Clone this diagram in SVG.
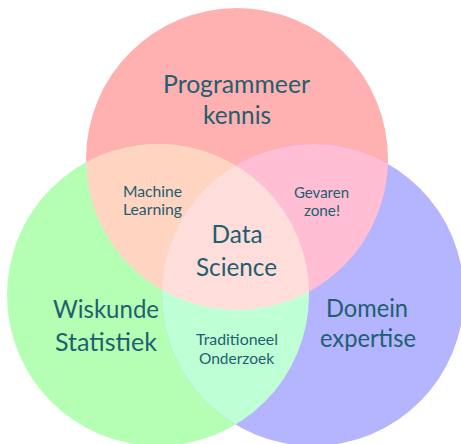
<svg xmlns="http://www.w3.org/2000/svg" width="461" height="444" viewBox="0 0 461 444">
  <defs>
    <clipPath id="clipR"><circle cx="237" cy="159" r="151"/></clipPath>
    <clipPath id="clipB"><circle cx="313" cy="295" r="151"/></clipPath>
    <style>
      .lbl { font-family: Lato, "Liberation Sans", sans-serif; fill: #215F6F; text-anchor: middle; }
      .big { font-size: 25px; }
      .small { font-size: 15px; }
    </style>
  </defs>
  <rect width="461" height="444" fill="#ffffff"/>

  <!-- the three sets -->
  <g id="set-programmeer"><circle cx="237" cy="159" r="151" fill="#FFB0B0"/></g>
  <g id="set-wiskunde"><circle cx="158" cy="295" r="151" fill="#B4FFB4"/></g>
  <g id="set-domein"><circle cx="313" cy="295" r="151" fill="#B4B4FF"/></g>

  <!-- pairwise overlaps -->
  <g id="overlap-ml" clip-path="url(#clipR)"><circle cx="158" cy="295" r="151" fill="#FFD4C0"/></g>
  <g id="overlap-gevaren" clip-path="url(#clipR)"><circle cx="313" cy="295" r="151" fill="#FFBED4"/></g>
  <g id="overlap-traditioneel" clip-path="url(#clipB)"><circle cx="158" cy="295" r="151" fill="#BEFFD6"/></g>

  <!-- triple overlap -->
  <g id="overlap-datascience" clip-path="url(#clipR)">
    <g clip-path="url(#clipB)"><circle cx="158" cy="295" r="151" fill="#FFDDDA"/></g>
  </g>

  <!-- labels -->
  <g id="labels">
    <text class="lbl big" x="236.5" y="93" textLength="147" lengthAdjust="spacingAndGlyphs">Programmeer</text>
    <text class="lbl big" x="237" y="124" textLength="68" lengthAdjust="spacingAndGlyphs">kennis</text>
    <text class="lbl small" x="152.5" y="197" textLength="59" lengthAdjust="spacingAndGlyphs">Machine</text>
    <text class="lbl small" x="152.5" y="215" textLength="59" lengthAdjust="spacingAndGlyphs">Learning</text>
    <text class="lbl small" x="321.5" y="198" textLength="55" lengthAdjust="spacingAndGlyphs">Gevaren</text>
    <text class="lbl small" x="322" y="216" textLength="36" lengthAdjust="spacingAndGlyphs">zone!</text>
    <text class="lbl big" x="237" y="243" textLength="51" lengthAdjust="spacingAndGlyphs">Data</text>
    <text class="lbl big" x="236.5" y="276" textLength="81" lengthAdjust="spacingAndGlyphs">Science</text>
    <text class="lbl big" x="106" y="318" textLength="106" lengthAdjust="spacingAndGlyphs">Wiskunde</text>
    <text class="lbl big" x="106" y="351" textLength="102" lengthAdjust="spacingAndGlyphs">Statistiek</text>
    <text class="lbl big" x="367" y="317" textLength="82" lengthAdjust="spacingAndGlyphs">Domein</text>
    <text class="lbl big" x="368" y="347" textLength="96" lengthAdjust="spacingAndGlyphs">expertise</text>
    <text class="lbl small" x="237" y="345" textLength="82" lengthAdjust="spacingAndGlyphs">Traditioneel</text>
    <text class="lbl small" x="236.5" y="364" textLength="75" lengthAdjust="spacingAndGlyphs">Onderzoek</text>
  </g>
</svg>
